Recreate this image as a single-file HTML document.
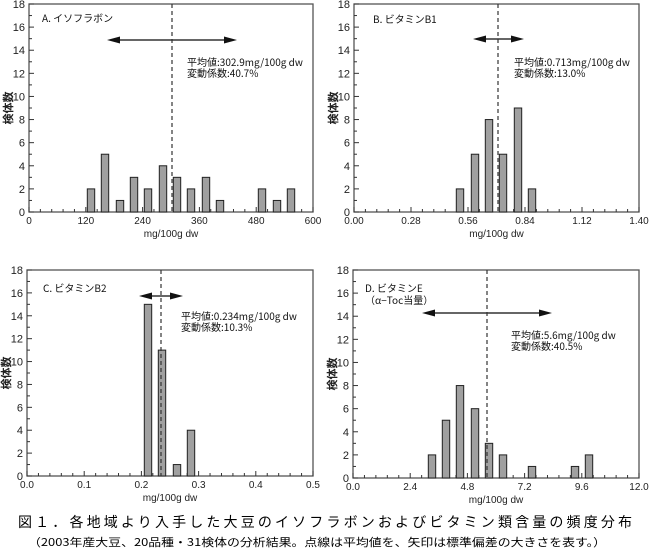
<!DOCTYPE html>
<html><head><meta charset="utf-8"><style>
html,body{margin:0;padding:0;background:#fff;}
svg{display:block;font-family:"Liberation Sans","Noto Sans CJK JP",sans-serif;}
</style></head><body>
<svg id="s" width="650" height="560" viewBox="0 0 650 560" xmlns="http://www.w3.org/2000/svg">
<text x="18" y="527" font-size="14" textLength="614" lengthAdjust="spacing" font-family="'Noto Sans CJK JP',sans-serif" fill="#000">図１．各地域より入手した大豆のイソフラボンおよびビタミン類含量の頻度分布</text>
<text x="28" y="546" font-size="11" textLength="578" lengthAdjust="spacingAndGlyphs" font-family="'Noto Sans CJK JP',sans-serif" fill="#000">（2003年産大豆、20品種・31検体の分析結果。点線は平均値を、矢印は標準偏差の大きさを表す。）</text>
</svg>
<script>
const S=document.getElementById('s');let h='';
function P(o){
 const {x0,x1,y0,y1,labels,bars,dash,ay,ax0,ax1,tx,ty,t1,t2,lab,lx,ly,lab2}=o;
 const uy=(y1-y0)/18;
 h+=`<rect x="${x0}" y="${y0}" width="${x1-x0}" height="${y1-y0}" fill="none" stroke="#555" stroke-width="1.3"/>`;
 for(let v=0;v<=18;v++){const y=y1-v*uy;const L=v%2==0?5:3;
  h+=`<line x1="${x0}" y1="${y}" x2="${x0+L}" y2="${y}" stroke="#333"/>`;
  if(v%2==0)h+=`<text x="${x0-4}" y="${y+4}" font-size="11" text-anchor="end" fill="#222">${v}</text>`;}
 const n=labels.length-1,dx=(x1-x0)/n;
 for(let i=0;i<=n*5;i++){const x=x0+i*dx/5;const L=i%5==0?5:3;
  h+=`<line x1="${x}" y1="${y1}" x2="${x}" y2="${y1-L}" stroke="#333"/>`;}
 labels.forEach((l,i)=>{h+=`<text x="${x0+i*dx}" y="${y1+12}" font-size="10" text-anchor="middle" fill="#222">${l}</text>`;});
 h+=`<text x="${(x0+x1)/2}" y="${y1+25}" font-size="10" text-anchor="middle" fill="#222">mg/100g dw</text>`;
 h+=`<text transform="translate(${x0-17},${(y0+y1)/2}) rotate(-90)" font-size="11" text-anchor="middle" fill="#222" font-family="'Noto Sans CJK JP',sans-serif" font-weight="bold">検体数</text>`;
 bars.forEach(([c,v])=>{h+=`<rect x="${c-3.7}" y="${y1-v*uy}" width="7.4" height="${v*uy}" fill="#a0a0a0" stroke="#222" stroke-width="1"/>`;});
 h+=`<line x1="${dash}" y1="${y0}" x2="${dash}" y2="${y1}" stroke="#333" stroke-width="1.2" stroke-dasharray="4,3"/>`;
 h+=`<line x1="${ax0+8}" y1="${ay}" x2="${ax1-8}" y2="${ay}" stroke="#333" stroke-width="1.5"/>`;
 h+=`<polygon points="${ax0},${ay} ${ax0+13},${ay-3.5} ${ax0+13},${ay+3.5}" fill="#111"/>`;
 h+=`<polygon points="${ax1},${ay} ${ax1-13},${ay-3.5} ${ax1-13},${ay+3.5}" fill="#111"/>`;
 h+=`<text x="${tx}" y="${ty}" font-size="10" fill="#111" font-family="'Noto Sans CJK JP',sans-serif">${t1}</text>`;
 h+=`<text x="${tx}" y="${ty+11}" font-size="10" fill="#111" font-family="'Noto Sans CJK JP',sans-serif">${t2}</text>`;
 h+=`<text x="${lx}" y="${ly}" font-size="10" fill="#111" font-family="'Noto Sans CJK JP',sans-serif">${lab}</text>`;
 if(lab2)h+=`<text x="${lx}" y="${ly+12}" font-size="10" fill="#111" font-family="'Noto Sans CJK JP',sans-serif">${lab2}</text>`;
}
P({x0:29,x1:313,y0:4,y1:212,labels:['0','120','240','360','480','600'],
 bars:[[91,2],[105,5],[120,1],[134,3],[148,2],[163,4],[177,3],[191,2],[206,3],[220,1],[262,2],[277,1],[291,2]],
 dash:172,ay:40,ax0:107,ax1:237,tx:187,ty:66,t1:'平均値:302.9mg/100g dw',t2:'変動係数:40.7%',lab:'A. イソフラボン',lx:42,ly:22});
P({x0:354,x1:639,y0:4,y1:212,labels:['0.00','0.28','0.56','0.84','1.12','1.40'],
 bars:[[460,2],[475,5],[489,8],[503,5],[518,9],[532,2]],
 dash:498,ay:39,ax0:473,ax1:524,tx:514,ty:66,t1:'平均値:0.713mg/100g dw',t2:'変動係数:13.0%',lab:'B. ビタミンB1',lx:373,ly:23});
P({x0:27,x1:313,y0:270,y1:476,labels:['0.0','0.1','0.2','0.3','0.4','0.5'],
 bars:[[148,15],[162,11],[177,1],[191,4]],
 dash:161,ay:296,ax0:139,ax1:183,tx:181,ty:320,t1:'平均値:0.234mg/100g dw',t2:'変動係数:10.3%',lab:'C. ビタミンB2',lx:43,ly:292});
P({x0:353,x1:639,y0:270,y1:478,labels:['0.0','2.4','4.8','7.2','9.6','12.0'],
 bars:[[432,2],[446,5],[460,8],[475,6],[489,3],[503,2],[532,1],[575,1],[589,2]],
 dash:487,ay:313,ax0:422,ax1:552,tx:511,ty:339,t1:'平均値:5.6mg/100g dw',t2:'変動係数:40.5%',lab:'D. ビタミンE',lx:365,ly:292,lab2:'（α−Toc当量）'});
S.insertAdjacentHTML('beforeend',h);
</script>
</body></html>
